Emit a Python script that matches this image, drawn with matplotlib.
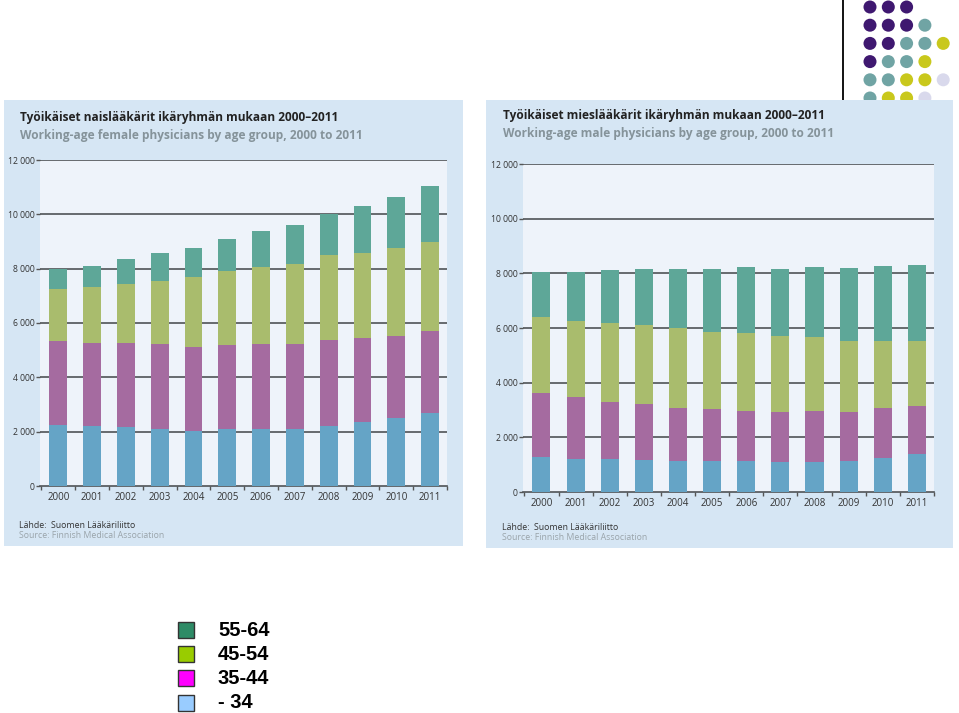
import matplotlib.pyplot as plt
import numpy as np
from matplotlib.patches import Rectangle, Circle

W, H = 959, 713

years = [str(y) for y in range(2000, 2012)]
groups = ['- 34', '35-44', '45-54', '55-64']

# female physicians, per age group
fem_34 = [2260, 2200, 2175, 2110, 2040, 2080, 2110, 2110, 2220, 2360, 2510, 2690]
fem_44 = [3080, 3080, 3095, 3110, 3080, 3120, 3120, 3120, 3160, 3070, 3020, 3000]
fem_54 = [1900, 2040, 2160, 2340, 2570, 2710, 2840, 2960, 3120, 3160, 3240, 3300]
fem_64 = [750, 790, 920, 1000, 1080, 1180, 1300, 1400, 1520, 1720, 1870, 2070]

# male physicians
male_34 = [1270, 1210, 1210, 1180, 1120, 1120, 1130, 1080, 1110, 1130, 1240, 1390]
male_44 = [2350, 2250, 2100, 2040, 1970, 1930, 1840, 1840, 1860, 1790, 1830, 1760]
male_54 = [2800, 2810, 2890, 2890, 2900, 2820, 2840, 2790, 2690, 2620, 2470, 2390]
male_64 = [1640, 1790, 1910, 2050, 2170, 2290, 2420, 2450, 2570, 2650, 2720, 2770]

bar_colors = ['#65a4c6', '#a56ba0', '#a9bc6d', '#5ea798']
legend_colors = ['#99ccff', '#ff00ff', '#99cc00', '#2e8b66']

fem_title = 'Työikäiset naislääkärit ikäryhmän mukaan 2000–2011'
fem_sub = 'Working-age female physicians by age group, 2000 to 2011'
male_title = 'Työikäiset mieslääkärit ikäryhmän mukaan 2000–2011'
male_sub = 'Working-age male physicians by age group, 2000 to 2011'

# decorative dot pattern, top right (one list per row)
dot_rows = [
    ['p', 'p', 'p'],
    ['p', 'p', 'p', 't'],
    ['p', 'p', 't', 't', 'y'],
    ['p', 't', 't', 'y'],
    ['t', 't', 'y', 'y', 'l'],
    ['t', 'y', 'y', 'l'],
]
dot_colors = {'p': '#3f1870', 't': '#70a4a4', 'y': '#c9c81c', 'l': '#d9d9ec'}

plt.rcParams['font.family'] = ['Open Sans', 'DejaVu Sans']

fig = plt.figure(figsize=(W / 100, H / 100), dpi=100)


def box(x0, y0, x1, y1):
    return [x0 / W, 1 - y1 / H, (x1 - x0) / W, (y1 - y0) / H]


def ftext(x, y, s, **kw):
    fig.text(x / W, 1 - y / H, s, **kw)


# background decoration layer
deco = fig.add_axes([0, 0, 1, 1], zorder=0)
deco.set_xlim(0, W)
deco.set_ylim(H, 0)
deco.axis('off')
deco.plot([843, 843], [0, 100], color='black', lw=1.3)
for r, row in enumerate(dot_rows):
    for c, k in enumerate(row):
        deco.add_patch(Circle((870 + c * 18.3, 7 + r * 18.2), 6.5, color=dot_colors[k], lw=0))

# legend
for i, g in enumerate(groups[::-1]):
    y = 630 + i * 24.2
    deco.add_patch(Rectangle((178, y - 8), 16, 16, facecolor=legend_colors[::-1][i],
                             edgecolor='#333333', lw=1))
    deco.text(218, y, g, fontsize=14.5, fontweight='bold', family='Liberation Sans',
              va='center', ha='left', color='black')


def panel(pbox, abox, series, title, sub, tx, ty, sy, xlim):
    bg = fig.add_axes(box(*pbox), zorder=1)
    bg.set_facecolor('#d6e6f4')
    bg.set_xticks([])
    bg.set_yticks([])
    for s in bg.spines.values():
        s.set_visible(False)

    ax = fig.add_axes(box(*abox), zorder=2)
    ax.set_facecolor('#eef3fa')
    x = np.arange(len(years))
    bottom = np.zeros(len(years))
    for vals, col in zip(series, bar_colors):
        ax.bar(x, vals, 0.53, bottom=bottom, color=col, zorder=3)
        bottom += np.array(vals)
    ax.set_ylim(0, 12000)
    ax.set_xlim(*xlim)
    yt = np.arange(0, 12001, 2000)
    ax.set_yticks(yt)
    ax.set_yticklabels([f'{v:,}'.replace(',', ' ') for v in yt], fontsize=6.2, color='#333333')
    for v in yt[1:]:
        ax.axhline(v, color='#4f5356', lw=1.2, zorder=2)
    ax.tick_params(axis='y', length=3, width=1, color='#555555', pad=1)
    ax.set_xticks(x)
    ax.set_xticklabels(years, fontsize=7, color='#333333')
    ax.set_xticks(np.arange(-0.5, len(years)), minor=True)
    ax.tick_params(axis='x', which='major', length=0, pad=4)
    ax.tick_params(axis='x', which='minor', length=3, width=1, color='#555555')
    for k in ['top', 'right', 'left']:
        ax.spines[k].set_visible(False)
    ax.spines['bottom'].set_color('#4f5356')
    ax.spines['bottom'].set_linewidth(1.2)

    ftext(tx, ty, title, fontsize=8.6, fontweight='bold', color='#222222', va='center')
    ftext(tx, ty + 17, sub, fontsize=8.6, fontweight='bold', color='#85939a', va='center')
    ftext(tx - 1, sy, 'Lähde:  Suomen Lääkäriliitto', fontsize=6.3, color='#333333', va='center')
    ftext(tx - 1, sy + 10, 'Source: Finnish Medical Association', fontsize=6.3, color='#9aa4aa', va='center')


panel((4, 100, 463, 546), (40, 160, 447, 486),
      [fem_34, fem_44, fem_54, fem_64], fem_title, fem_sub, 20, 118, 526, (-0.54, 11.47))
panel((486, 100, 953, 548), (523, 164, 934, 492),
      [male_34, male_44, male_54, male_64], male_title, male_sub, 503, 116, 527, (-0.54, 11.5))

fig.savefig('out.png', dpi=100)
